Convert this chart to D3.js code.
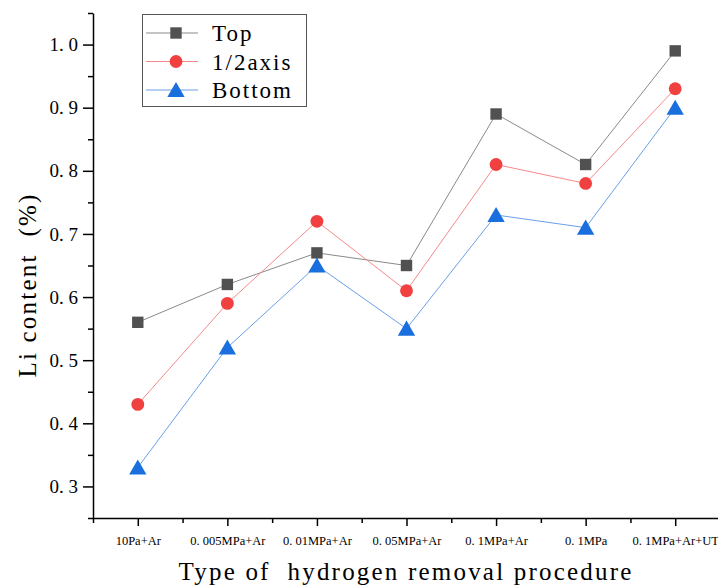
<!DOCTYPE html>
<html>
<head>
<meta charset="utf-8">
<style>
  body { margin: 0; background: #fff; }
  text { font-family: "Liberation Serif", "DejaVu Serif", serif; fill: #000; }
  .axis path, .axis line { stroke: #000; stroke-width: 1.5; }
</style>
</head>
<body>
<script src="https://d3js.org/d3.v7.min.js"></script>
<div class="chart"></div>
<script>
var categories = ["10Pa+Ar", "0. 005MPa+Ar", "0. 01MPa+Ar", "0. 05MPa+Ar", "0. 1MPa+Ar", "0. 1MPa", "0. 1MPa+Ar+UT"];
var topValues = [0.56, 0.62, 0.67, 0.65, 0.89, 0.81, 0.99];
var halfValues = [0.43, 0.59, 0.72, 0.61, 0.81, 0.78, 0.93];
var bottomValues = [0.33, 0.52, 0.65, 0.55, 0.73, 0.71, 0.90];
var yTicks = [0.3, 0.4, 0.5, 0.6, 0.7, 0.8, 0.9, 1.0];

var series = [
  {name: "Top", values: topValues, color: "#515151", line: "#8a8a8a", shape: d3.symbolSquare},
  {name: "1/2axis", values: halfValues, color: "#F14040", line: "#f58a8a", shape: d3.symbolCircle},
  {name: "Bottom", values: bottomValues, color: "#1A6FDF", line: "#6a9fe8", shape: d3.symbolTriangle}
];

var width = 718, height = 585;
var svg = d3.select(".chart").append("svg")
  .attr("width", width).attr("height", height);

var x = d3.scaleLinear().domain([0.5, categories.length + 0.5]).range([93, 720]);
var y = d3.scaleLinear().domain([0.25, 1.05]).range([518, 13]);

// minor ticks y
svg.append("g").attr("class", "axis")
  .attr("transform", "translate(93,0)")
  .call(d3.axisLeft(y).tickValues(d3.range(0.25, 1.051, 0.1)).tickSize(5).tickFormat(""))
  .select(".domain").remove();

var yAxis = svg.append("g").attr("class", "axis")
  .attr("transform", "translate(93,0)")
  .call(d3.axisLeft(y).tickValues(yTicks).tickSize(10).tickSizeOuter(0).tickPadding(5)
    .tickFormat(function(d) { return d3.format(".1f")(d).replace(".", ". "); }));
yAxis.selectAll("text").style("font-size", "19px").attr("xml:space", "preserve");

// minor ticks x
svg.append("g").attr("class", "axis")
  .attr("transform", "translate(0,518)")
  .call(d3.axisBottom(x).tickValues(d3.range(0.5, categories.length + 0.6, 1)).tickSize(5).tickFormat(""))
  .select(".domain").remove();

var xAxis = svg.append("g").attr("class", "axis")
  .attr("transform", "translate(0,518)")
  .call(d3.axisBottom(x).tickValues(d3.range(1, categories.length + 1)).tickSize(8).tickSizeOuter(0).tickPadding(10)
    .tickFormat(function(d) { return categories[d - 1]; }));
xAxis.selectAll("text").style("font-size", "12.5px").attr("xml:space", "preserve");

// axis titles
svg.append("text")
  .attr("x", 406).attr("y", 580)
  .attr("text-anchor", "middle")
  .style("font-size", "25px")
  .style("letter-spacing", "2.2px")
  .attr("xml:space", "preserve")
  .text("Type of  hydrogen removal procedure");

svg.append("text")
  .attr("transform", "translate(36,285) rotate(-90)")
  .attr("text-anchor", "middle")
  .style("font-size", "25px")
  .style("letter-spacing", "2.2px")
  .attr("xml:space", "preserve")
  .text("Li content  (%)");

var line = d3.line()
  .x(function(d, i) { return x(i + 1); })
  .y(function(d) { return y(d); });

series.forEach(function(s) {
  svg.append("path")
    .datum(s.values)
    .attr("fill", "none")
    .attr("stroke", s.line)
    .attr("stroke-width", 1)
    .attr("d", line);
});

series.forEach(function(s) {
  svg.selectAll(null)
    .data(s.values)
    .enter().append("path")
    .attr("transform", function(d, i) {
      var dy = s.shape === d3.symbolTriangle ? 2 : 0;
      return "translate(" + x(i + 1) + "," + (y(d) + dy) + ")";
    })
    .attr("d", d3.symbol().type(s.shape).size(130))
    .attr("fill", s.color);
});

// legend
var legend = svg.append("g");
legend.append("rect")
  .attr("x", 142.5).attr("y", 14.5).attr("width", 164).attr("height", 92)
  .attr("fill", "#fff").attr("stroke", "#555").attr("stroke-width", 1);

series.forEach(function(s, i) {
  var ly = 33 + i * 28.5;
  legend.append("line")
    .attr("x1", 146).attr("x2", 198).attr("y1", ly).attr("y2", ly)
    .attr("stroke", s.line).attr("stroke-width", 1);
  legend.append("path")
    .attr("transform", "translate(176," + (ly + (s.shape === d3.symbolTriangle ? 2 : 0)) + ")")
    .attr("d", d3.symbol().type(s.shape).size(130))
    .attr("fill", s.color);
  legend.append("text")
    .attr("x", 212).attr("y", ly + 8)
    .style("font-size", "23px")
    .style("letter-spacing", "2px")
    .text(s.name);
});
</script>
</body>
</html>
